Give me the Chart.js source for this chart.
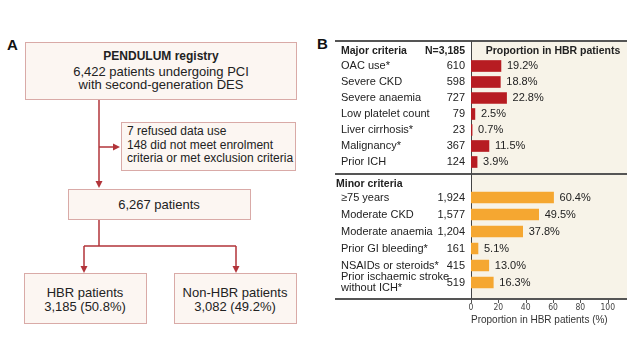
<!DOCTYPE html>
<html>
<head>
<meta charset="utf-8">
<script src="https://cdn.jsdelivr.net/npm/chart.js@4.4.1/dist/chart.umd.min.js"></script>
<style>
  body { margin: 0; width: 640px; height: 360px; background: #fff; overflow: hidden; position: relative;
         font-family: "Liberation Sans", Arial, sans-serif; }
  .abs { position: absolute; }
  .rule { position: absolute; left: 335px; width: 292px; height: 2px; background: #555; }
  .panel-letter { position: absolute; font: bold 15px "Liberation Sans", Arial, sans-serif; color: #111; }
  canvas { position: absolute; }
</style>
</head>
<body>

<div class="panel-letter" style="left:7px;top:36px">A</div>
<div class="panel-letter" style="left:317px;top:35px">B</div>

<svg class="abs" style="left:0;top:0" width="320" height="360" font-family="Liberation Sans, Arial, sans-serif" font-size="13" fill="#222">
  <g fill="#fcf6f2" stroke="#d9aaa7" stroke-width="1">
    <rect x="25.5" y="42.5" width="271" height="57"/>
    <rect x="121.5" y="122.5" width="174" height="48"/>
    <rect x="68.5" y="189.5" width="182" height="30"/>
    <rect x="24.5" y="273.5" width="122" height="50"/>
    <rect x="174.5" y="273.5" width="122" height="50"/>
  </g>
  <g stroke="#b2343a" stroke-width="1.5" fill="none">
    <path d="M99 100 V182"/>
    <path d="M99 147 H114"/>
    <path d="M99 220 V246 M84 246 H236 M84 246 V267 M236 246 V267"/>
  </g>
  <g fill="#b2343a">
    <polygon points="99,188 95.5,181 102.5,181"/>
    <polygon points="120,147 113,143.5 113,150.5"/>
    <polygon points="84,273 80.5,266 87.5,266"/>
    <polygon points="236,273 232.5,266 239.5,266"/>
  </g>
  <g dominant-baseline="central" text-anchor="middle">
    <text x="161" y="56" font-weight="bold" font-size="12">PENDULUM registry</text>
    <text x="161" y="71">6,422 patients undergoing PCI</text>
    <text x="161" y="84">with second-generation DES</text>
    <text x="159" y="204">6,267 patients</text>
    <text x="85" y="292">HBR patients</text>
    <text x="85" y="306">3,185 (50.8%)</text>
    <text x="235" y="292">Non-HBR patients</text>
    <text x="235" y="306">3,082 (49.2%)</text>
  </g>
  <g dominant-baseline="central" font-size="12">
    <text x="127" y="131">7 refused data use</text>
    <text x="127" y="145">148 did not meet enrolment</text>
    <text x="127" y="158">criteria or met exclusion criteria</text>
  </g>
</svg>

<!-- panel B frame -->
<div class="abs" style="left:471px;top:41px;width:156px;height:258px;background:#f7f3e8"></div>
<div class="rule" style="top:40px"></div>
<div class="rule" style="top:173px"></div>
<div class="rule" style="top:298px"></div>
<div class="abs" style="left:471px;top:41px;width:1px;height:262px;background:#444"></div>

<canvas id="majorChart" width="292" height="133" style="left:335px;top:41px"></canvas>
<canvas id="minorChart" width="292" height="156" style="left:335px;top:174px"></canvas>

<script>
const totalHBR = 3185;

const majorLabels = ["OAC use*", "Severe CKD", "Severe anaemia", "Low platelet count", "Liver cirrhosis*", "Malignancy*", "Prior ICH"];
const majorCounts = [610, 598, 727, 79, 23, 367, 124];
const majorPct = [19.2, 18.8, 22.8, 2.5, 0.7, 11.5, 3.9];

const minorLabels = ["\u226575 years", "Moderate CKD", "Moderate anaemia", "Prior GI bleeding*", "NSAIDs or steroids*",
                     ["Prior ischaemic stroke", "without ICH*"]];
const minorCounts = [1924, 1577, 1204, 161, 415, 519];
const minorPct = [60.4, 49.5, 37.8, 5.1, 13.0, 16.3];

const xTicks = [0, 20, 40, 60, 80, 100];

const FONT = '"Liberation Sans", Arial, sans-serif';
const NARROW = '"Liberation Sans Narrow", "DejaVu Sans Condensed", "Liberation Sans", sans-serif';
const TEXT = "#222";

// draws the table text (names, counts, percentages) next to each bar
const tablePlugin = {
    id: "tableText",
    afterDatasetsDraw(chart, args, opts) {
        const { ctx, chartArea } = chart;
        const yScale = chart.scales.y;
        const xScale = chart.scales.x;
        const labels = chart.data.labels;
        ctx.save();
        ctx.fillStyle = TEXT;
        ctx.textBaseline = "middle";

        if (opts.header) {
            ctx.font = "bold 10.5px " + FONT;
            ctx.textAlign = "left";
            ctx.fillText(opts.header, opts.headerX, 10);
            if (opts.nText) {
                ctx.textAlign = "right";
                ctx.fillText(opts.nText, chartArea.left - 6, 10);
                ctx.textAlign = "center";
                ctx.fillText("Proportion in HBR patients", chartArea.left + 82, 10);
            }
        }

        labels.forEach((lab, i) => {
            const y = yScale.getPixelForValue(i);
            ctx.font = "11px " + FONT;
            ctx.textAlign = "left";
            if (Array.isArray(lab)) {
                ctx.fillText(lab[0], 6, y - 5.5);
                ctx.fillText(lab[1], 6, y + 5.5);
            } else {
                ctx.fillText(lab, 6, y);
            }
            ctx.textAlign = "right";
            ctx.fillText(opts.counts[i].toLocaleString("en-US"), chartArea.left - 6, y);
            const v = chart.data.datasets[0].data[i];
            ctx.textAlign = "left";
            ctx.fillText(v.toFixed(1) + "%", xScale.getPixelForValue(v) + 6, y);
        });
        ctx.restore();
    }
};

// small tick marks under the bottom rule
const tickMarks = {
    id: "tickMarks",
    afterDraw(chart) {
        if (!chart.options.plugins.tickMarks) return;
        const { ctx, chartArea } = chart;
        const xScale = chart.scales.x;
        const yb = chartArea.bottom + 8;
        ctx.save();
        ctx.strokeStyle = "#555";
        ctx.lineWidth = 1;
        xTicks.forEach(t => {
            const x = Math.round(xScale.getPixelForValue(t)) + 0.5;
            ctx.beginPath();
            ctx.moveTo(x, yb);
            ctx.lineTo(x, yb + 4);
            ctx.stroke();
        });
        ctx.restore();
    }
};

function makeChart(id, labels, values, color, counts, pad, withAxis, headerOpts) {
    return new Chart(document.getElementById(id), {
        type: "bar",
        data: {
            labels,
            datasets: [{ data: values, backgroundColor: color, barThickness: 11, borderWidth: 0 }]
        },
        options: {
            indexAxis: "y",
            responsive: false,
            animation: false,
            layout: { padding: pad },
            scales: {
                x: {
                    min: 0, max: 100,
                    display: withAxis,
                    border: { display: false },
                    grid: { display: false, drawTicks: false },
                    afterBuildTicks: s => { s.ticks = xTicks.map(v => ({ value: v })); },
                    afterFit: s => { if (withAxis) s.height = 39; },
                    ticks: {
                        padding: 12,
                        color: "#444",
                        font: { family: NARROW, size: 8.5 },
                        maxRotation: 0
                    },
                    title: {
                        display: withAxis,
                        text: "Proportion in HBR patients (%)",
                        color: "#333",
                        font: { family: FONT, size: 10.5 },
                        padding: { top: 0, bottom: 4 }
                    }
                },
                y: { display: false }
            },
            plugins: {
                legend: { display: false },
                tooltip: { enabled: false },
                tableText: Object.assign({ counts }, headerOpts),
                tickMarks: withAxis
            }
        },
        plugins: [tablePlugin, tickMarks]
    });
}

makeChart("majorChart", majorLabels, majorPct, "#b71c22", majorCounts,
    { left: 136, right: 0, top: 17, bottom: 4 }, false,
    { header: "Major criteria", headerX: 6, nText: "N=" + totalHBR.toLocaleString("en-US") });

makeChart("minorChart", minorLabels, minorPct, "#f5a731", minorCounts,
    { left: 136, right: 0, top: 15, bottom: 0 }, true,
    { header: "Minor criteria", headerX: 1 });
</script>
</body>
</html>
